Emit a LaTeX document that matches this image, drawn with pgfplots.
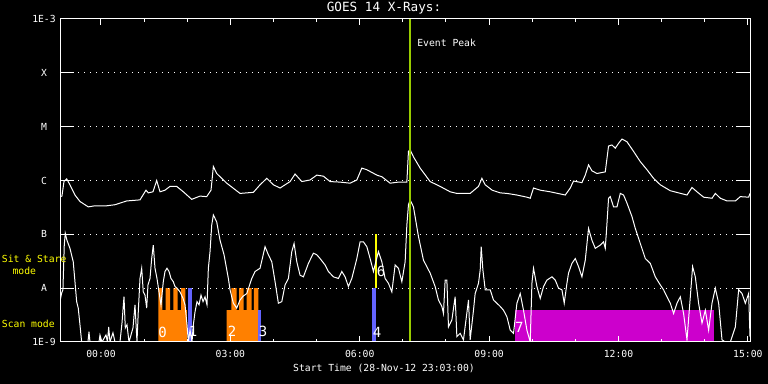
\documentclass[border=0pt]{standalone}
\usepackage{fontspec}
\setmainfont{DejaVu Sans Mono}
\usepackage{pgfplots}
\pgfplotsset{compat=1.18}
\definecolor{gorange}{RGB}{255,128,0}
\definecolor{gblue}{RGB}{100,100,255}
\definecolor{gmag}{RGB}{204,0,204}
\definecolor{ggreen}{RGB}{153,204,0}
\definecolor{gyellow}{RGB}{255,255,0}
\pgfplotstableread{
h L
-0.95 -6.30
-0.905 -6.29
-0.858 -6.02
-0.796 -5.97
-0.719 -6.08
-0.603 -6.27
-0.487 -6.39
-0.295 -6.49
-0.139 -6.47
0.132 -6.47
0.325 -6.45
0.596 -6.38
0.905 -6.36
1.044 -6.18
1.097 -6.23
1.206 -6.21
1.292 -6.00
1.369 -6.21
1.485 -6.18
1.601 -6.11
1.756 -6.11
1.910 -6.21
2.104 -6.35
2.297 -6.29
2.452 -6.30
2.552 -6.18
2.606 -5.74
2.684 -5.87
2.916 -6.05
3.225 -6.24
3.534 -6.22
3.689 -6.08
3.845 -5.96
3.998 -6.08
4.153 -6.14
4.385 -6.02
4.501 -5.88
4.657 -6.02
4.849 -5.99
5.005 -5.90
5.158 -5.92
5.313 -6.02
5.545 -6.03
5.777 -6.05
5.933 -5.99
6.049 -5.77
6.165 -5.80
6.397 -5.90
6.513 -5.93
6.705 -6.05
6.898 -6.03
7.093 -6.03
7.130 -5.46
7.169 -5.43
7.246 -5.56
7.401 -5.77
7.633 -6.02
7.865 -6.11
8.097 -6.21
8.253 -6.24
8.561 -6.24
8.754 -6.11
8.833 -5.96
8.910 -6.08
9.072 -6.18
9.258 -6.23
9.413 -6.24
9.645 -6.27
9.877 -6.31
9.954 -6.33
10.030 -6.14
10.186 -6.18
10.418 -6.21
10.650 -6.25
10.766 -6.27
10.882 -6.14
10.958 -6.01
11.153 -6.04
11.230 -5.90
11.306 -5.71
11.385 -5.82
11.501 -5.87
11.694 -5.84
11.770 -5.36
11.849 -5.34
11.926 -5.40
12.002 -5.31
12.081 -5.23
12.197 -5.28
12.350 -5.46
12.506 -5.65
12.661 -5.80
12.814 -5.96
12.970 -6.08
13.202 -6.19
13.589 -6.27
13.705 -6.13
13.821 -6.21
13.974 -6.31
14.169 -6.33
14.246 -6.24
14.362 -6.33
14.517 -6.38
14.710 -6.38
14.826 -6.30
15.019 -6.31
15.05 -6.24
}\longwave
\pgfplotstableread{
h L
-0.951 -8.25
-0.912 -8.09
-0.882 -8.03
-0.851 -7.20
-0.828 -6.98
-0.789 -7.11
-0.719 -7.26
-0.643 -7.51
-0.603 -7.88
-0.564 -8.25
-0.527 -8.37
-0.487 -8.68
-0.448 -9
-0.302 -9
-0.278 -8.81
-0.255 -9
-0.046 -9
-0.023 -8.87
0.023 -9
0.116 -8.87
0.151 -9
0.179 -8.72
0.209 -9
0.278 -8.83
0.325 -9
0.441 -9
0.487 -8.65
0.534 -8.16
0.564 -8.74
0.603 -8.68
0.650 -9
0.696 -8.87
0.742 -8.74
0.789 -8.31
0.835 -9
0.865 -8.44
0.905 -7.82
0.944 -7.63
0.981 -8.07
1.021 -8.13
1.060 -8.37
1.090 -7.94
1.137 -7.82
1.176 -7.45
1.213 -7.20
1.253 -7.63
1.299 -7.82
1.346 -8.07
1.392 -8.31
1.445 -7.88
1.485 -7.69
1.531 -7.63
1.578 -7.69
1.624 -7.82
1.677 -7.88
1.717 -7.97
1.763 -8.00
1.833 -8.07
1.903 -8.19
1.949 -8.31
1.995 -8.68
2.026 -9
2.065 -8.78
2.111 -9
2.142 -8.68
2.181 -8.44
2.227 -8.25
2.274 -8.31
2.320 -8.13
2.367 -8.25
2.413 -8.16
2.459 -8.31
2.490 -7.63
2.529 -7.32
2.568 -6.83
2.606 -6.64
2.684 -6.77
2.761 -7.11
2.854 -7.38
2.954 -7.82
2.993 -8.03
3.070 -8.28
3.148 -8.37
3.225 -8.22
3.295 -8.15
3.381 -8.10
3.497 -7.82
3.573 -7.69
3.689 -7.63
3.805 -7.23
3.882 -7.38
3.961 -7.51
4.037 -7.88
4.114 -8.28
4.193 -8.25
4.269 -7.94
4.346 -7.82
4.425 -7.32
4.478 -7.17
4.541 -7.51
4.617 -7.76
4.694 -7.79
4.810 -7.54
4.926 -7.35
5.005 -7.38
5.081 -7.45
5.197 -7.57
5.274 -7.69
5.390 -7.79
5.506 -7.82
5.585 -7.69
5.661 -7.79
5.738 -7.97
5.817 -7.82
5.933 -7.45
6.009 -7.14
6.086 -7.14
6.165 -7.23
6.241 -7.45
6.318 -7.69
6.434 -7.32
6.513 -7.51
6.589 -7.82
6.666 -7.91
6.745 -8.07
6.821 -7.57
6.898 -7.63
6.977 -7.88
7.053 -7.51
7.093 -6.83
7.130 -6.45
7.169 -6.36
7.246 -6.49
7.362 -7.04
7.478 -7.48
7.633 -7.72
7.749 -7.97
7.826 -8.22
7.905 -8.34
7.942 -8.47
7.981 -7.85
8.021 -7.85
8.058 -8.72
8.137 -8.59
8.213 -8.16
8.253 -8.90
8.329 -8.84
8.406 -8.96
8.522 -8.22
8.561 -8.96
8.638 -8.41
8.677 -8.10
8.754 -7.91
8.794 -7.66
8.817 -7.23
8.856 -7.66
8.910 -8.03
9.026 -8.03
9.102 -8.22
9.181 -8.28
9.258 -8.34
9.334 -8.41
9.413 -8.53
9.490 -8.78
9.566 -8.84
9.645 -8.28
9.722 -8.10
9.798 -8.41
9.877 -8.78
9.954 -9
9.993 -7.91
10.030 -7.63
10.109 -7.97
10.186 -8.19
10.262 -7.97
10.341 -7.85
10.457 -7.79
10.534 -7.85
10.610 -8.00
10.689 -8.03
10.742 -8.28
10.805 -7.91
10.842 -7.72
10.921 -7.54
10.998 -7.45
11.074 -7.60
11.153 -7.79
11.230 -7.48
11.306 -6.89
11.385 -7.11
11.462 -7.26
11.578 -7.20
11.654 -7.14
11.694 -7.26
11.733 -6.80
11.770 -6.33
11.810 -6.30
11.886 -6.49
11.965 -6.49
12.042 -6.24
12.118 -6.27
12.197 -6.42
12.313 -6.67
12.390 -6.89
12.506 -7.17
12.622 -7.45
12.738 -7.54
12.854 -7.79
12.970 -7.94
13.046 -8.03
13.125 -8.16
13.202 -8.28
13.278 -8.47
13.357 -8.28
13.434 -8.16
13.510 -8.47
13.589 -8.96
13.666 -8.16
13.719 -7.60
13.782 -7.79
13.858 -8.28
13.937 -8.65
14.014 -8.41
14.091 -8.78
14.169 -8.28
14.246 -8.00
14.323 -8.28
14.401 -8.96
14.478 -9
14.594 -9
14.710 -8.72
14.787 -8.03
14.865 -8.10
14.942 -8.28
15.019 -8.10
15.05 -8.90
}\shortwave
\begin{document}
\begin{tikzpicture}[x=0.75pt,y=0.75pt,font=\fontsize{7.3}{8.5}\selectfont]
\useasboundingbox (0,0) rectangle (768,384);
\fill[black] (0,0) rectangle (768,384);
\begin{axis}[
  at={(45pt,31.5pt)}, anchor=south west, scale only axis,
  width=517.5pt, height=242.25pt,
  xmin=-0.95, xmax=15.05, ymin=-9, ymax=-3,
  axis on top,
  axis line style={white, line width=0.75pt},
  xtick={0,3,6,9,12,15},
  xticklabels={00:00,03:00,06:00,09:00,12:00,15:00},
  minor x tick num=2,
  major tick length=4.5pt, minor tick length=2.25pt,
  tick style={white, line width=0.75pt},
  ytick={-9,-8,-7,-6,-5,-4,-3},
  yticklabels={1E-9,A,B,C,M,X,1E-3},
  ytick style={draw=none},
  ymajorgrids,
  major grid style={white, line width=0.75pt, dash pattern=on 0.75pt off 3.75pt},
  tick label style={white, font=\fontsize{7.3}{8.5}\selectfont},
  xticklabel style={anchor=center, yshift=-9pt},
  yticklabel style={anchor=center, xshift=-12pt},
  clip=true,
]
% instrument mode bars
\addplot[fill=gorange, draw=none] coordinates {(1.329,-9) (1.329,-8) (1.422,-8) (1.422,-8.41) (1.501,-8.41) (1.501,-8) (1.601,-8) (1.601,-8.41) (1.677,-8.41) (1.677,-8) (1.780,-8) (1.780,-8.41) (1.856,-8.41) (1.856,-8) (1.960,-8) (1.960,-8.41) (1.99,-8.41) (1.99,-9)} -- cycle;
\addplot[fill=gblue, draw=none] coordinates {(2.026,-9) (2.026,-8) (2.104,-8) (2.104,-9)} -- cycle;
\addplot[fill=gorange, draw=none] coordinates {(2.916,-9) (2.916,-8.41) (3.023,-8.41) (3.023,-8) (3.144,-8) (3.144,-8.41) (3.202,-8.41) (3.202,-8) (3.306,-8) (3.306,-8.41) (3.376,-8.41) (3.376,-8) (3.492,-8) (3.492,-8.41) (3.543,-8.41) (3.543,-8) (3.650,-8) (3.650,-9)} -- cycle;
\addplot[fill=gblue, draw=none] coordinates {(3.650,-9) (3.650,-8.41) (3.712,-8.41) (3.712,-9)} -- cycle;
\addplot[fill=gblue, draw=none] coordinates {(6.281,-9) (6.281,-8) (6.374,-8) (6.374,-9)} -- cycle;
\addplot[fill=gyellow, draw=none] coordinates {(6.350,-8) (6.350,-7) (6.404,-7) (6.404,-8)} -- cycle;
\addplot[fill=gmag, draw=none] coordinates {(9.606,-9) (9.606,-8.41) (14.223,-8.41) (14.223,-9)} -- cycle;
% y tick marks
\pgfplotsinvokeforeach{-8,-7,-6,-5,-4}{
  \addplot[white, line width=0.75pt, forget plot] coordinates {(-0.95,#1) (-0.625,#1)};
  \addplot[white, line width=0.75pt, forget plot] coordinates {(14.725,#1) (15.05,#1)};
}
% GOES curves
\addplot[white, line width=0.75pt] table[x=h, y=L] {\longwave};
\addplot[white, line width=0.75pt] table[x=h, y=L] {\shortwave};
% event peak
\addplot[ggreen, line width=1.7pt] coordinates {(7.166,-9) (7.166,-3)};
\node[white, anchor=west, inner sep=0pt] at (axis cs:7.33,-3.45) {Event Peak};
\begin{scope}[font=\fontsize{10.5}{12}\selectfont]
\node[white, inner sep=0pt] at (axis cs:1.427,-8.82) {0};
\node[white, inner sep=0pt] at (axis cs:2.135,-8.81) {1};
\node[white, inner sep=0pt] at (axis cs:3.04,-8.81) {2};
\node[white, inner sep=0pt] at (axis cs:3.76,-8.81) {3};
\node[white, inner sep=0pt] at (axis cs:6.404,-8.82) {4};
\node[white, inner sep=0pt] at (axis cs:6.497,-7.69) {6};
\node[white, inner sep=0pt] at (axis cs:9.70,-8.72) {7};
\end{scope}
\end{axis}
\node[white, inner sep=0pt, font=\fontsize{9.5}{11}\selectfont] at (384,376) {GOES 14 X-Rays:};
\node[white, inner sep=0pt] at (384,16) {Start Time (28-Nov-12 23:03:00)};
\node[gyellow, inner sep=0pt] at (34.2,124.7) {Sit \& Stare};
\node[gyellow, inner sep=0pt] at (24.3,113) {mode};
\node[gyellow, inner sep=0pt] at (28.3,60) {Scan mode};
\end{tikzpicture}
\end{document}
